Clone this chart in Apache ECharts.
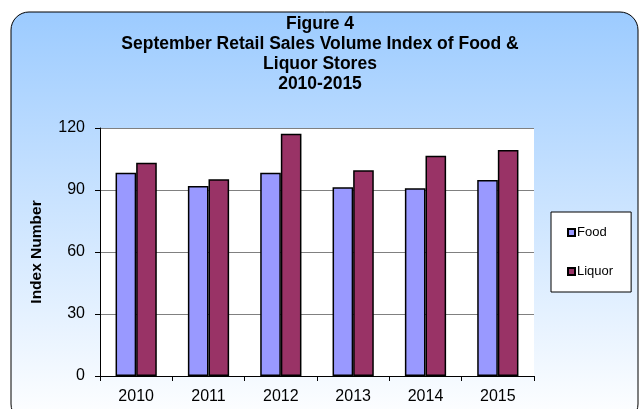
<!DOCTYPE html>
<html>
<head>
<meta charset="utf-8">
<script src="https://cdn.jsdelivr.net/npm/echarts@6/dist/echarts.min.js"></script>
<style>
  html, body { margin: 0; padding: 0; background: #fff; }
  #chart { width: 640px; height: 409px; }
</style>
</head>
<body>
<div id="chart"></div>
<script>
// data
var years = ["2010", "2011", "2012", "2013", "2014", "2015"];
var food = [98.4, 91.9, 98.4, 91.3, 90.8, 94.8];
var liquor = [103.2, 95.2, 117.2, 99.5, 106.6, 109.4];
var yTicks = [0, 30, 60, 90, 120];

var myChart = echarts.init(document.getElementById("chart"));

var option = {
  animation: false,
  graphic: [
    {
      // rounded panel behind the whole chart
      type: "rect",
      z: -10,
      shape: { x: 11, y: 12, width: 627, height: 410, r: 18 },
      style: {
        fill: new echarts.graphic.LinearGradient(0, 0, 0, 1, [
          { offset: 0, color: "#9ccbff" },
          { offset: 1, color: "#ffffff" }
        ]),
        stroke: "#000",
        lineWidth: 1
      }
    }
  ],
  title: {
    text: "Figure 4\nSeptember Retail Sales Volume Index of Food &\nLiquor Stores\n2010-2015",
    left: "center",
    top: 9,
    textStyle: {
      fontFamily: "Liberation Sans, Arial",
      fontSize: 17.5,
      fontWeight: "bold",
      color: "#000",
      lineHeight: 20
    }
  },
  legend: {
    orient: "vertical",
    left: 551,
    top: 212,
    padding: [14, 18, 14, 16],
    itemGap: 26,
    itemWidth: 7,
    itemHeight: 7,
    icon: "rect",
    backgroundColor: "#fff",
    borderColor: "#000",
    borderWidth: 1,
    borderRadius: 0,
    textStyle: {
      fontFamily: "Liberation Sans, Arial",
      fontSize: 13,
      color: "#000",
      padding: [0, 0, 0, -3]
    },
    data: ["Food", "Liquor"]
  },
  grid: {
    left: 100,
    right: 106,
    top: 128,
    bottom: 33,
    show: true,
    backgroundColor: "#fff",
    borderWidth: 0
  },
  xAxis: {
    type: "category",
    data: years,
    axisLine: { lineStyle: { color: "#000", width: 1 } },
    axisTick: { show: true, length: 5, lineStyle: { color: "#000" } },
    axisLabel: {
      fontFamily: "Liberation Sans, Arial",
      fontSize: 16,
      color: "#000",
      margin: 13
    }
  },
  yAxis: {
    type: "value",
    min: yTicks[0],
    max: yTicks[yTicks.length - 1],
    interval: 30,
    name: "Index Number",
    nameLocation: "middle",
    nameGap: 55,
    nameTextStyle: {
      fontFamily: "Liberation Sans, Arial",
      fontSize: 15.5,
      fontWeight: "bold",
      color: "#000"
    },
    axisLine: { show: true, lineStyle: { color: "#000", width: 1 } },
    axisTick: { show: true, length: 5, lineStyle: { color: "#000" } },
    axisLabel: {
      fontFamily: "Liberation Sans, Arial",
      fontSize: 16,
      color: "#000",
      margin: 15
    },
    splitLine: { show: true, lineStyle: { color: "#808080", width: 1 } }
  },
  series: [
    {
      name: "Food",
      type: "bar",
      data: food,
      barGap: "0%",
      barCategoryGap: "43%",
      itemStyle: { color: "#9999ff", borderColor: "#000", borderWidth: 1.5 }
    },
    {
      name: "Liquor",
      type: "bar",
      data: liquor,
      barGap: "0%",
      barCategoryGap: "43%",
      itemStyle: { color: "#993366", borderColor: "#000", borderWidth: 1.5 }
    }
  ]
};

myChart.setOption(option, true);
</script>
</body>
</html>
